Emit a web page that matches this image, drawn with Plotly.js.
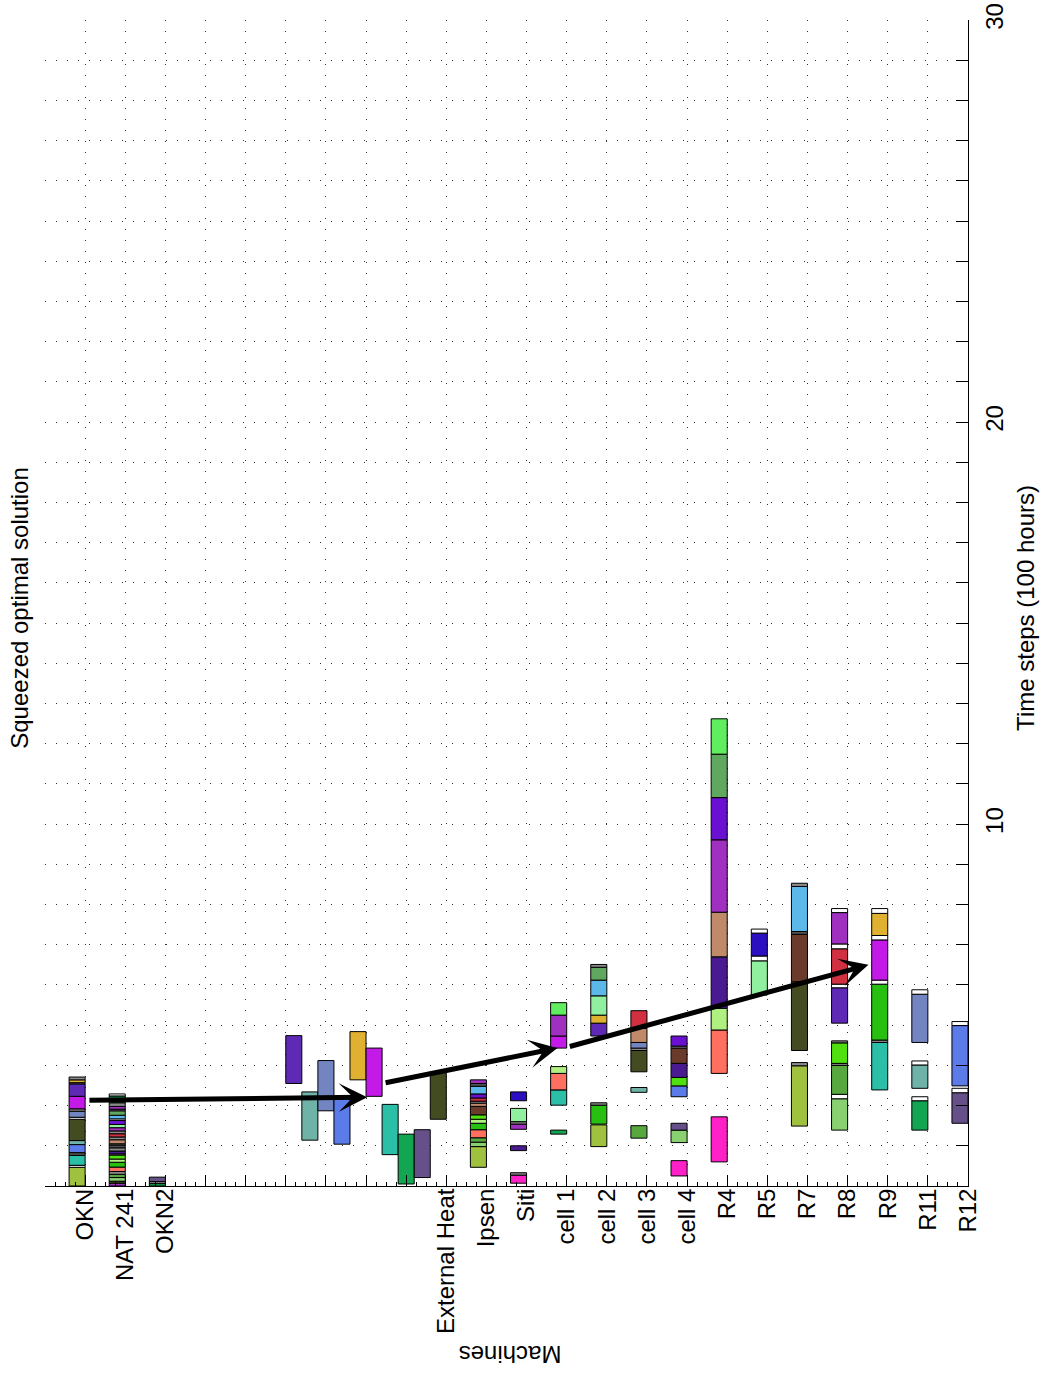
<!DOCTYPE html>
<html>
<head>
<meta charset="utf-8">
<script src="https://cdn.plot.ly/plotly-3.0.1.min.js"></script>
<style>html,body{margin:0;padding:0;background:#fff;}#chart{width:1045px;height:1373px;}</style>
</head>
<body>
<div id="chart"></div>
<script>
// Machine axis: tick positions and labels
var machinePos = [0,1,2,3,4,5,6,7,8,9,10,11,12,13,14,15,16,17,18,19,20,21,22,23];
var machineLabels = ['', 'OKN','NAT 241','OKN2','','','','','','','External Heat','Ipsen','Siti','cell 1','cell 2','cell 3','cell 4','R4','R5','R7','R8','R9','R11','R12'];
// Time axis ticks
var timeTicks = [1,2,3,4,5,6,7,8,9,10,11,12,13,14,15,16,17,18,19,20,21,22,23,24,25,26,27,28,29,30];
var timeLabels = timeTicks.map(function(t){ return (t % 10 === 0) ? String(t) : ''; });

// Job colours
var jobColor = {
  yg:'#A0C040', teal:'#2BBFA8', dg:'#505050', blue:'#5A7BE8', tg:'#6FB3A8', olive:'#434B20',
  wh:'#FFFFFF', slate:'#7385C0', gr:'#8A8A8A', mag:'#C31AE8', purple:'#5E2AB5', orange:'#E0B030',
  g12:'#12A552', pg:'#66508A', purp2:'#A030C0', lblue:'#5BB8E8', violet:'#6A10D0', red:'#D03040',
  tan:'#C08A6A', brown:'#6A3A2A', bgreen:'#50E010', lyg:'#B0F080', g28:'#28C010', salmon:'#FF7060',
  g58:'#58A840', lg88:'#88D070', lg90:'#90F0A0', dpurple:'#4A1A90', bviolet:'#2A10C0', pink:'#FF20C8',
  g60:'#60EE60', g6a:'#60A860'
};

// Schedule blocks: slot (right edge on machine axis), start, end (time steps), job
var blkSlot = [
  1,1,1,1,1,1,1,1,1,1,1,1,1,1,1,
  2,2,2,2,2,2,2,2,2,2,2,2,2,2,2,2,2,2,2,2,2,2,2,2,2,2,2,2,2,
  3,3,3,
  6.4,6.8,7.2,7.6,8.0,8.4,8.8,9.2,9.6,10,
  11,11,11,11,11,11,11,11,11,11,11,11,11,11,11,
  12,12,12,12,12,12,12,
  13,13,13,13,13,13,13,
  14,14,14,14,14,14,14,14,14,
  15,15,15,15,15,15,15,
  16,16,16,16,16,16,16,16,16,
  17,17,17,17,17,17,17,17,17,
  18,18,18,18,
  19,19,19,19,19,19,19,
  20,20,20,20,20,20,20,20,20,20,20,20,
  21,21,21,21,21,21,21,21,
  22,22,22,22,22,22,
  23,23,23,23
];
var blkStart = [
  1.00,1.465,1.515,1.76,1.83,2.03,2.13,2.66,2.71,2.86,2.92,3.23,3.54,3.57,3.64,
  1.00,1.07,1.12,1.21,1.29,1.36,1.47,1.59,1.67,1.77,1.80,1.87,1.95,2.02,2.05,2.15,2.22,2.30,2.37,2.45,2.53,2.63,2.67,2.76,2.87,2.91,2.98,3.07,3.24,
  1.00,1.06,1.11,
  3.55,2.14,2.87,2.04,3.64,3.23,1.78,1.05,1.21,2.66,
  1.465,1.98,2.09,2.20,2.40,2.56,2.66,2.77,2.98,3.06,3.11,3.19,3.29,3.48,3.55,
  1.07,1.27,1.88,2.41,2.54,2.60,3.12,
  2.29,3.01,3.39,3.80,4.43,4.73,5.25,
  1.98,2.54,3.01,4.73,5.05,5.25,5.73,6.12,6.44,
  2.19,3.33,3.84,4.37,4.43,4.57,4.92,
  1.25,2.08,2.39,3.22,3.49,3.70,4.05,4.43,4.48,
  1.60,3.80,4.88,5.42,6.70,7.81,9.61,10.66,11.74,
  5.75,6.60,6.72,7.29,
  2.49,3.99,4.37,6.08,7.26,7.33,8.45,
  2.39,3.17,3.28,4.00,4.05,4.56,5.05,5.93,6.02,6.90,7.02,7.80,
  3.39,4.57,4.63,6.02,6.12,7.12,7.23,7.78,
  2.39,3.12,3.43,4.01,4.57,5.77,
  2.56,3.32,3.49,4.99
];
var blkEnd = [
  1.465,1.515,1.76,1.83,2.03,2.13,2.66,2.71,2.86,2.92,3.23,3.54,3.57,3.64,3.71,
  1.07,1.12,1.21,1.29,1.36,1.47,1.59,1.67,1.77,1.80,1.87,1.95,2.02,2.05,2.15,2.22,2.30,2.37,2.45,2.53,2.63,2.67,2.76,2.87,2.91,2.98,3.07,3.24,3.29,
  1.06,1.11,1.22,
  4.74,3.34,4.12,3.22,4.84,4.43,3.03,2.29,2.40,3.84,
  1.98,2.09,2.20,2.40,2.56,2.66,2.77,2.98,3.06,3.11,3.19,3.29,3.48,3.55,3.64,
  1.27,1.33,2.00,2.54,2.60,2.93,3.34,
  2.39,3.39,3.80,3.97,4.73,5.25,5.56,
  2.52,3.01,3.07,5.05,5.25,5.73,6.12,6.44,6.51,
  2.50,3.45,4.37,4.43,4.57,4.92,5.36,
  1.63,2.39,2.56,3.49,3.70,4.05,4.43,4.48,4.73,
  2.72,4.88,5.42,6.70,7.81,9.61,10.66,11.74,12.62,
  6.60,6.72,7.29,7.39,
  3.99,4.07,6.08,7.26,7.33,8.45,8.53,
  3.17,3.28,4.00,4.05,4.56,4.61,5.93,6.02,6.90,7.02,7.80,7.90,
  4.57,4.63,6.02,6.12,7.12,7.23,7.78,7.90,
  3.12,3.22,4.01,4.11,5.77,5.88,
  3.32,3.43,4.99,5.09
];
var blkJob = [
  'yg','wh','teal','dg','blue','tg','olive','wh','slate','gr','mag','purple','gr','orange','gr',
  'purp2','olive','lg88','g58','gr','salmon','g28','lyg','bgreen','gr','dpurple','gr','dg','gr','tan','gr','red','gr','purp2','lg90','violet','wh','lblue','g6a','gr','purp2','gr','g12','wh',
  'g12','gr','pg',
  'purple','tg','slate','blue','orange','mag','teal','g12','pg','olive',
  'yg','lg88','g58','salmon','g28','lyg','bgreen','brown','tan','gr','red','violet','lblue','dg','purp2',
  'pink','gr','dpurple','purp2','gr','lg90','bviolet',
  'g12','teal','salmon','lyg','mag','purp2','g60',
  'yg','g28','gr','purple','orange','lg90','lblue','g6a','gr',
  'g58','tg','olive','gr','slate','tan','red',
  'pink','lg88','pg','blue','bgreen','dpurple','brown','gr','violet',
  'pink','salmon','lyg','dpurple','tan','purp2','violet','g6a','g60',
  'lg90','wh','bviolet','wh',
  'yg','gr','olive','brown','dg','lblue','gr',
  'lg88','wh','g58','gr','bgreen','gr','purple','wh','red','wh','purp2','wh',
  'teal','gr','g28','wh','mag','wh','orange','wh',
  'g12','wh','tg','wh','slate','wh',
  'pg','wh','blue','wh'
];

// Flow arrows (tail -> head) in machine / time coordinates
var arrowTailX = [1.07, 8.45, 13.04];
var arrowTailT = [3.13, 3.56, 4.46];
var arrowHeadX = [8.03, 12.77, 20.52];
var arrowHeadT = [3.21, 4.43, 6.50];

var FONT = 'Liberation Sans, Arial, Helvetica, sans-serif';

var trace = {
  type: 'bar',
  x: blkSlot,
  base: blkStart,
  y: blkEnd.map(function(e, i){ return e - blkStart[i]; }),
  width: 0.4,
  offset: -0.4,
  marker: {
    color: blkJob.map(function(j){ return jobColor[j]; }),
    line: {color: '#000', width: 1}
  },
  hoverinfo: 'none',
  showlegend: false
};

var annotations = [];
for (var i = 0; i < arrowTailX.length; i++) {
  annotations.push({
    x: arrowHeadX[i], y: arrowHeadT[i], xref: 'x', yref: 'y',
    ax: arrowTailX[i], ay: arrowTailT[i], axref: 'x', ayref: 'y',
    text: '', showarrow: true, arrowhead: 3, arrowsize: 0.95, arrowwidth: 5,
    arrowcolor: '#000', standoff: 0, startstandoff: 0
  });
}
annotations.push({
  text: 'Machines', textangle: 180, showarrow: false,
  xref: 'paper', yref: 'paper', x: 0.504, y: -0.144,
  xanchor: 'center', yanchor: 'middle', font: {family: FONT, size: 24, color: '#000'}
});
annotations.push({
  text: 'Squeezed optimal solution', textangle: -90, showarrow: false,
  xref: 'paper', yref: 'paper', x: -0.027, y: 0.496,
  xanchor: 'center', yanchor: 'middle', font: {family: FONT, size: 24, color: '#000'}
});
annotations.push({
  text: 'Time steps (100 hours)', textangle: -90, showarrow: false,
  xref: 'paper', yref: 'paper', x: 1.062, y: 0.496,
  xanchor: 'center', yanchor: 'middle', font: {family: FONT, size: 24, color: '#000'}
});

var layout = {
  width: 1045, height: 1373,
  margin: {l: 45, r: 77, t: 20, b: 187, pad: 0},
  paper_bgcolor: '#fff', plot_bgcolor: '#fff',
  barmode: 'overlay',
  font: {family: FONT, size: 24, color: '#000'},
  xaxis: {
    range: [0, 23], tickmode: 'array', tickvals: machinePos, ticktext: machineLabels,
    tickangle: -90, ticks: 'inside', ticklen: 11, tickcolor: '#000', tickwidth: 1,
    ticklabelstandoff: -8,
    showline: true, linecolor: '#000', linewidth: 1, mirror: false, zeroline: false,
    showgrid: true, gridcolor: '#333', gridwidth: 1, griddash: '1px,10px',
    minor: {tickmode: 'linear', tick0: 0, dtick: 0.25, ticks: 'inside', ticklen: 4, tickcolor: '#000', showgrid: false},
    tickfont: {family: FONT, size: 24, color: '#000'}, fixedrange: true
  },
  yaxis: {
    range: [1, 30], side: 'right', tickmode: 'array', tickvals: timeTicks, ticktext: timeLabels,
    tickangle: -90, ticks: 'inside', ticklen: 12, tickcolor: '#000', tickwidth: 1,
    ticklabelstandoff: 5,
    showline: true, linecolor: '#000', linewidth: 1, mirror: false, zeroline: false,
    showgrid: true, gridcolor: '#333', gridwidth: 1, griddash: '1px,10px',
    tickfont: {family: FONT, size: 24, color: '#000'}, fixedrange: true
  },
  annotations: annotations
};

Plotly.newPlot('chart', [trace], layout, {displayModeBar: false, staticPlot: true});
</script>
</body>
</html>
